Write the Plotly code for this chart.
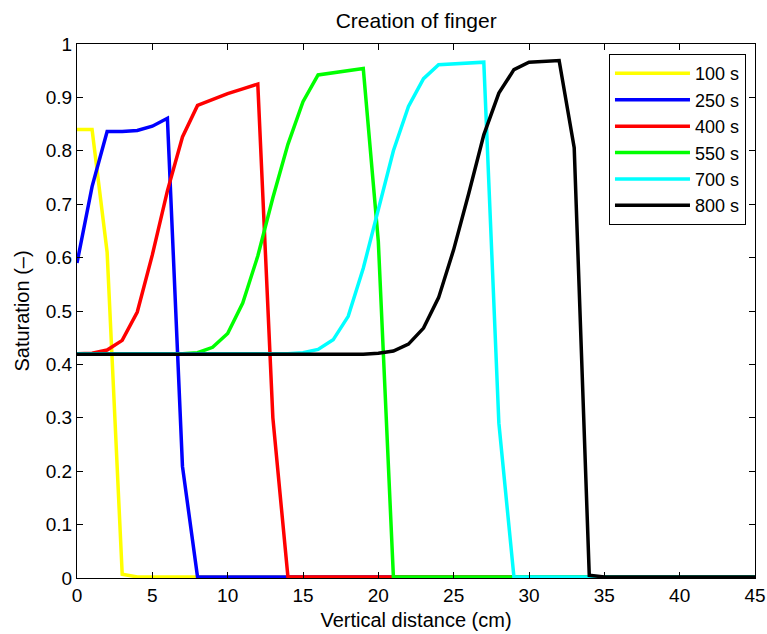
import plotly.graph_objects as go

# Vertical positions (cm) of the simulation grid
distance = list(range(46))

# Saturation profiles at successive times
times = ["100 s", "250 s", "400 s", "550 s", "700 s", "800 s"]
colors = ["#ffff00", "#0000ff", "#ff0000", "#00ff00", "#00ffff", "#000000"]

sat_100 = [0.84, 0.84, 0.61, 0.007] + [0.002] * 42
sat_250 = [0.59, 0.733, 0.836, 0.836, 0.838, 0.846, 0.861, 0.209] + [0.002] * 38
sat_400 = [0.42, 0.421, 0.427, 0.445, 0.498, 0.605, 0.725, 0.826, 0.885, 0.896,
           0.907, 0.916, 0.925, 0.30, 0.002] + [0.002] * 31
sat_550 = [0.42] * 8 + [0.422, 0.432, 0.458, 0.515, 0.603, 0.712, 0.812, 0.892,
                        0.942, 0.946, 0.950, 0.954, 0.63, 0.002] + [0.002] * 24
sat_700 = [0.42] * 15 + [0.422, 0.428, 0.446, 0.49, 0.58, 0.69, 0.80, 0.883,
                         0.935, 0.961, 0.963, 0.965, 0.966, 0.29, 0.002] + [0.002] * 16
sat_800 = [0.419] * 20 + [0.421, 0.425, 0.438, 0.468, 0.525, 0.615, 0.72, 0.83,
                          0.908, 0.952, 0.966, 0.968, 0.969, 0.806, 0.005] + [0.002] * 11

profiles = [sat_100, sat_250, sat_400, sat_550, sat_700, sat_800]

x_ticks = [0, 5, 10, 15, 20, 25, 30, 35, 40, 45]
y_ticks = [0, 0.1, 0.2, 0.3, 0.4, 0.5, 0.6, 0.7, 0.8, 0.9, 1]
y_tick_text = ["0", "0.1", "0.2", "0.3", "0.4", "0.5", "0.6", "0.7", "0.8", "0.9", "1"]

FONT = "Liberation Sans, Arial, Helvetica, sans-serif"

fig = go.Figure()
for name, col, sat in zip(times, colors, profiles):
    fig.add_trace(go.Scatter(
        x=distance, y=sat, mode="lines", name=name,
        line=dict(color=col, width=3.5), legendgroup=name,
    ))

axis_common = dict(
    showline=True, linecolor="black", linewidth=1, mirror="ticks",
    ticks="inside", ticklen=6, tickcolor="black", tickwidth=1,
    showgrid=False, zeroline=False,
    tickfont=dict(family=FONT, size=19, color="black"),
)

fig.update_layout(
    width=767, height=634,
    margin=dict(l=77, r=12, t=44, b=56, autoexpand=False),
    paper_bgcolor="white", plot_bgcolor="white",
    font=dict(family=FONT, color="black"),
    title=dict(text="Creation of finger", x=0.5426, xanchor="center",
               y=1 - 21 / 634, yanchor="middle", yref="container",
               font=dict(family=FONT, size=21, color="black")),
    xaxis=dict(range=[0, 45], tickvals=x_ticks,
               title=dict(text="Vertical distance (cm)", standoff=8,
                          font=dict(family=FONT, size=20, color="black")),
               **axis_common),
    yaxis=dict(range=[0, 1], tickvals=y_ticks, ticktext=y_tick_text,
               title=dict(text="Saturation (\u2013)", standoff=10,
                          font=dict(family=FONT, size=20, color="black")),
               **axis_common),
    legend=dict(x=0.9867, xanchor="right", y=0.981, yanchor="top",
                bgcolor="white", bordercolor="black", borderwidth=1,
                font=dict(family=FONT, size=18, color="black"),
                traceorder="normal", itemwidth=75, tracegroupgap=0),
    showlegend=True,
)

fig.write_html("out.html")
